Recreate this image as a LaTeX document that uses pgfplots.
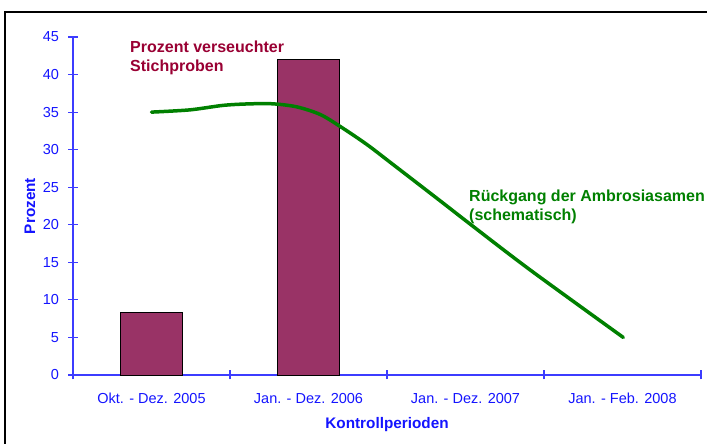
\documentclass[border=0pt]{standalone}
\usepackage{fontspec}
\setmainfont{Liberation Sans}
\usepackage{pgfplots}
\pgfplotsset{compat=1.18}
\definecolor{barplum}{RGB}{153,51,102}
\definecolor{axblue}{RGB}{60,60,255}
\definecolor{txtblue}{RGB}{20,20,255}
\definecolor{lgreen}{RGB}{0,128,0}
\definecolor{titlered}{RGB}{153,0,51}
\begin{document}
\begin{tikzpicture}
\begin{axis}[
  at={(0pt,0pt)}, anchor=south west,
  scale only axis, width=628pt, height=338pt,
  xmin=-0.5, xmax=3.5, ymin=0, ymax=45,
  axis x line=bottom, axis y line=left,
  axis line style={-, draw=axblue, line width=1.1pt},
  ytick={0,5,...,45},
  xtick={0,1,2,3},
  xticklabels={Okt. - Dez. 2005, Jan. - Dez. 2006, Jan. - Dez. 2007, Jan. - Feb. 2008},
  major x tick style={draw=none},
  minor xtick={-0.5,0.5,1.5,2.5,3.5},
  minor tick length=9pt,
  major tick length=9pt,
  tick align=center,
  tick style={draw=axblue, line width=1.1pt},
  every tick label/.append style={font=\fontsize{14.5}{17}\selectfont, text=txtblue},
  /pgf/number format/assume math mode=true,
  yticklabel style={xshift=-6pt},
  xticklabel style={yshift=-10pt},
  xlabel={\bfseries Kontrollperioden},
  ylabel={\bfseries Prozent},
  label style={font=\fontsize{15.3}{18}\selectfont, text=txtblue},
  xlabel style={at={(axis description cs:0.5,-0.157)}, anchor=base},
  ylabel style={at={(axis description cs:-0.0685,0.5)}, anchor=center},
  clip=false,
]
\addplot[ybar, bar width=62pt, fill=barplum, draw=black, line width=0.9pt] coordinates {(0,8.3) (1,42.0)};
\addplot[smooth, tension=0.5, color=lgreen, line width=3.5pt, line cap=round] coordinates {
(0.0,35.0) (0.245,35.3) (0.457,35.9) (0.627,36.1) (0.776,36.1) (0.925,35.7) (1.073,34.7) (1.201,33.1) (1.371,30.7) (1.540,28.0) (1.838,23.2) (2.029,20.1) (2.411,14.0) (3.005,5.0)};
\end{axis}
\node[anchor=base west, inner sep=0, text=titlered, font=\fontsize{16}{18}\selectfont\bfseries] at (57pt,322pt) {Prozent verseuchter};
\node[anchor=base west, inner sep=0, text=titlered, font=\fontsize{16}{18}\selectfont\bfseries] at (57pt,303pt) {Stichproben};
\node[anchor=base west, inner sep=0, text=lgreen, font=\fontsize{16}{18}\selectfont\bfseries] at (396pt,173pt) {Rückgang der Ambrosiasamen};
\node[anchor=base west, inner sep=0, text=lgreen, font=\fontsize{16}{18}\selectfont\bfseries] at (396pt,154pt) {(schematisch)};
\draw[black, line width=1.3pt] (-68pt,-90pt) -- (-68pt,363pt) -- (660pt,363pt);
\pgfresetboundingbox
\path[use as bounding box] (-73pt,-69pt) rectangle (634pt,375pt);
\end{tikzpicture}
\end{document}
